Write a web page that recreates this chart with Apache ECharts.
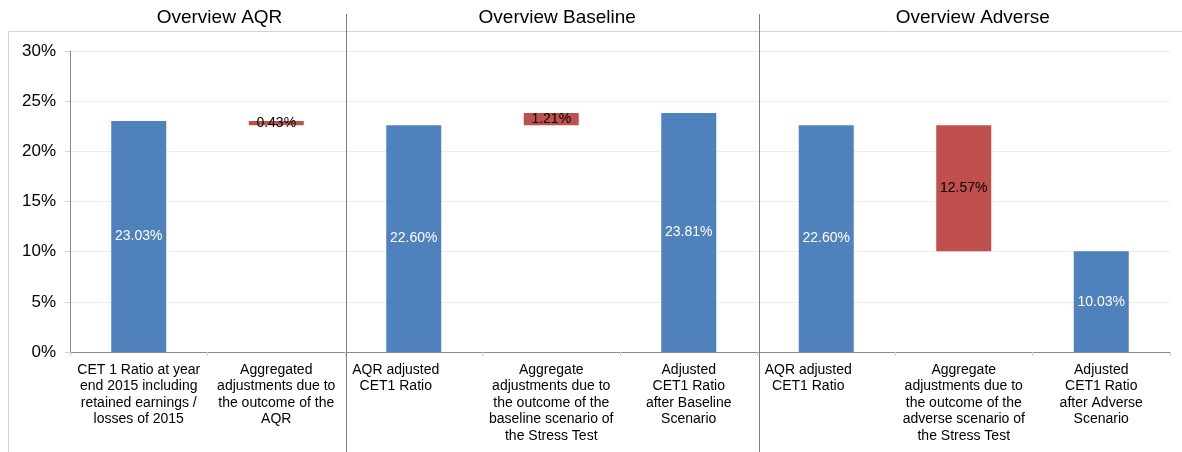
<!DOCTYPE html>
<html>
<head>
<meta charset="utf-8">
<script src="https://cdn.jsdelivr.net/npm/echarts@6/dist/echarts.min.js"></script>
<style>
html,body{margin:0;padding:0;background:#fff;}
#c{width:1182px;height:452px;}
</style>
</head>
<body>
<div id="c"></div>
<script>
const categories = [
  "CET 1 Ratio at year\nend 2015 including\nretained earnings /\nlosses of 2015",
  "Aggregated\nadjustments due to\nthe outcome of the\nAQR",
  "AQR adjusted\nCET1 Ratio",
  "Aggregate\nadjustments due to\nthe outcome of the\nbaseline scenario of\nthe Stress Test",
  "Adjusted\nCET1 Ratio\nafter Baseline\nScenario",
  "AQR adjusted\nCET1 Ratio",
  "Aggregate\nadjustments due to\nthe outcome of the\nadverse scenario of\nthe Stress Test",
  "Adjusted\nCET1 Ratio\nafter Adverse\nScenario"
];
const shiftedLabels = [2, 5];
const baseValues = [0, 22.60, 0, 22.60, 0, 0, 10.03, 0];
const ratioValues = [23.03, null, 22.60, null, 23.81, 22.60, null, 10.03];
const adjustValues = [null, 0.43, null, 1.21, null, null, 12.57, null];
const sectionTitles = ["Overview AQR", "Overview Baseline", "Overview Adverse"];
const sectionRanges = [[0, 1], [2, 4], [5, 7]];
const yTicks = [0, 5, 10, 15, 20, 25, 30];

const FONT = "Liberation Sans, Arial, sans-serif";
const chart = echarts.init(document.getElementById('c'));

const option = {
  animation: false,
  textStyle: { fontFamily: FONT },
  grid: { left: 70, right: 12, top: 51, bottom: 100 },
  xAxis: {
    type: 'category',
    data: categories,
    axisLine: { lineStyle: { color: '#888888', width: 1 } },
    axisTick: { show: true, alignWithLabel: false, length: 4, lineStyle: { color: '#d0d0d0' } },
    axisLabel: {
      interval: 0,
      color: '#000',
      fontSize: 14,
      lineHeight: 16.4,
      margin: 10,
      fontFamily: FONT,
      formatter: function (v, i) {
        if (shiftedLabels.indexOf(i) >= 0) {
          return v.split('\n').map(function (s) { return '{s|' + s + '}'; }).join('\n');
        }
        return v;
      },
      rich: {
        s: { fontSize: 14, lineHeight: 16.4, color: '#000', fontFamily: FONT, padding: [0, 36, 0, 0] }
      }
    }
  },
  yAxis: {
    type: 'value',
    min: yTicks[0],
    max: yTicks[yTicks.length - 1],
    interval: 5,
    axisLine: { show: true, lineStyle: { color: '#888888' } },
    axisTick: { show: true, length: 5, lineStyle: { color: '#d0d0d0' } },
    axisLabel: { formatter: '{value}%', fontSize: 17, color: '#000', margin: 14, fontFamily: FONT },
    splitLine: { lineStyle: { color: '#ececec' } }
  },
  series: [
    {
      name: 'base', type: 'bar', stack: 'w', data: baseValues, barWidth: 55,
      itemStyle: { color: 'transparent' }, silent: true
    },
    {
      name: 'ratio', type: 'bar', stack: 'w', data: ratioValues, barWidth: 55,
      itemStyle: { color: '#4F81BD' },
      label: {
        show: true, position: 'inside', color: '#fff', fontSize: 14, fontFamily: FONT,
        formatter: function (p) { return p.value.toFixed(2) + '%'; }
      }
    },
    {
      name: 'adjust', type: 'bar', stack: 'w', data: adjustValues, barWidth: 55,
      itemStyle: { color: '#C0504D' },
      label: {
        show: true, position: 'inside', color: '#000', fontSize: 14, fontFamily: FONT,
        formatter: function (p) { return p.value.toFixed(2) + '%'; }
      }
    }
  ]
};
chart.setOption(option);

// decorative frame, section separators and section titles from axis pixels
const c0 = chart.convertToPixel({ xAxisIndex: 0 }, 0);
const c1 = chart.convertToPixel({ xAxisIndex: 0 }, 1);
const band = c1 - c0;
const boundary = function (i) { return chart.convertToPixel({ xAxisIndex: 0 }, i) - band / 2; };
const W = chart.getWidth(), H = chart.getHeight();
const graphics = [
  { type: 'line', shape: { x1: 8.5, y1: 31.5, x2: W, y2: 31.5 }, style: { stroke: '#d4d4d4', lineWidth: 1 }, z: 0 },
  { type: 'line', shape: { x1: 8.5, y1: 31.5, x2: 8.5, y2: H }, style: { stroke: '#d4d4d4', lineWidth: 1 }, z: 0 }
];
[2, 5].forEach(function (i) {
  const x = Math.round(boundary(i)) + 1.5;
  graphics.push({ type: 'line', shape: { x1: x, y1: 14, x2: x, y2: H }, style: { stroke: '#808080', lineWidth: 1 }, z: 10 });
});
const titleOffsets = [12, 6, 9];
sectionTitles.forEach(function (t, k) {
  const r = sectionRanges[k];
  const cx = (boundary(r[0]) + boundary(r[1] + 1)) / 2 + titleOffsets[k];
  graphics.push({
    type: 'text', x: cx, y: 18, z: 10,
    style: { text: t, fill: '#000', font: '19px ' + FONT, textAlign: 'center', textVerticalAlign: 'middle' }
  });
});
chart.setOption({ graphic: graphics });
</script>
</body>
</html>
